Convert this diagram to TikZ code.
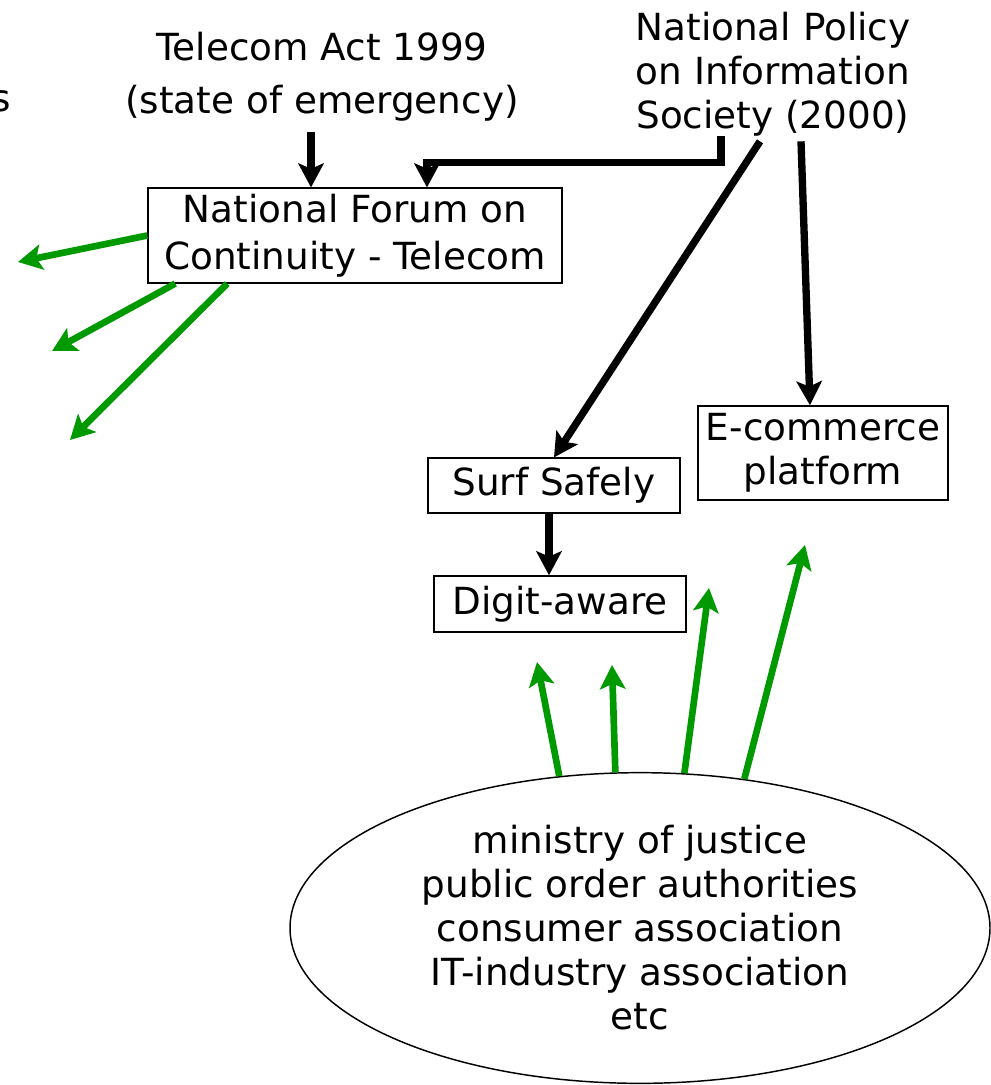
\documentclass[tikz,border=0pt]{standalone}
\usepackage{fontspec}
\setmainfont{DejaVu Sans}
\usetikzlibrary{arrows.meta,shapes.geometric,calc}
\definecolor{grn}{RGB}{0,153,0}
\tikzset{
  txt/.style={font=\fontsize{28}{33}\selectfont, align=center, inner sep=0pt},
  box/.style={txt, draw, line width=1.1pt, inner sep=0pt},
  blk/.style={line width=5.5pt, -{Stealth[length=18pt,width=19pt,inset=4pt]}, line join=miter},
  gar/.style={grn, line width=5pt, -{Stealth[length=18pt,width=19pt,inset=4pt]}}
}
\begin{document}
\begin{tikzpicture}[x=0.75pt,y=-0.75pt]
\useasboundingbox (0,0) rectangle (991,1085);
% text nodes
\node[txt, anchor=east] (frag) at (11,101) {s};
\node[txt] (tel) at (322,77) {Telecom Act 1999\\[7pt](state of emergency)};
\node[txt] (npis) at (773,74) {National Policy\\on Information\\Society (2000)};
% boxes
\node[box, minimum width=310.5pt, minimum height=71pt] (nfc) at (355,235.5) {National Forum on\\[2pt]Continuity - Telecom};
\node[box, minimum width=189pt, minimum height=41pt] (surf) at (554,485.5) {Surf Safely};
\node[box, minimum width=189pt, minimum height=42pt] (digit) at (560,604) {Digit-aware};
\node[box, minimum width=187.5pt, minimum height=70.5pt] (ecom) at (823,453) {E-commerce\\platform};
\node[txt, ellipse, draw, line width=1.1pt, minimum width=525pt, minimum height=233pt] (ell) at (640,928)
  {ministry of justice\\public order authorities\\consumer association\\IT-industry association\\etc};
% black connectors
\draw[blk] ($(tel.south)+(-11,10)$) -- ($(nfc.north)+(-44,0)$);
\draw[blk] ($(npis.south)+(-52,0)$) |- ($(nfc.north)+(72,-25)$) -- ($(nfc.north)+(72,0)$);
\draw[blk] ($(npis.south)+(-13,5)$) -- (surf.north);
\draw[blk] ($(npis.south)+(28,5)$) -- ($(ecom.north)+(-13,0)$);
\draw[blk] ($(surf.south)+(-5,0)$) -- ($(digit.north)+(-11,0)$);
% green connectors from forum
\coordinate (g1) at (18,262);
\coordinate (g2) at (52,351);
\coordinate (g3) at (70,440);
\draw[gar] (nfc.west) -- (g1);
\draw[gar] ($(nfc.south west)+(28,0)$) -- (g2);
\draw[gar] ($(nfc.south west)+(80,0)$) -- (g3);
% green connectors from ellipse
\coordinate (h1) at (537,662);
\coordinate (h2) at (612,665);
\coordinate (h3) at (709,588);
\coordinate (h4) at (805,545);
\draw[gar] (ell.118) -- (h1);
\draw[gar] (ell.99.5) -- (h2);
\draw[gar] (ell.74) -- (h3);
\draw[gar] (ell.55.4) -- (h4);
\end{tikzpicture}
\end{document}
